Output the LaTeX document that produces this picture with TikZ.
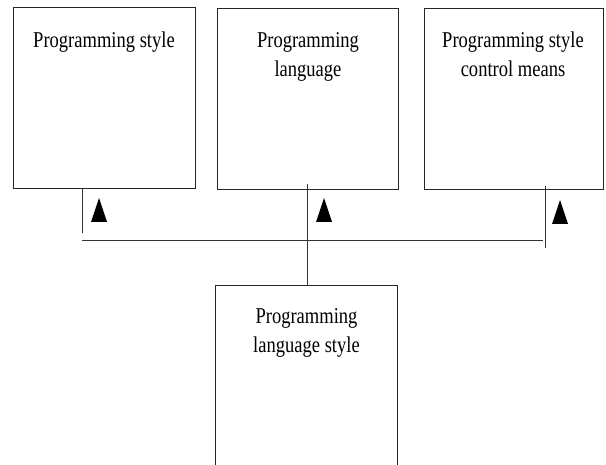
\documentclass[tikz,border=0pt]{standalone}
\usepackage{fontspec}
\setmainfont{Liberation Serif}[FakeStretch=0.82]
\tikzset{
  boxstyle/.style={draw=black!85, line width=1pt, inner sep=0pt},
  lbl/.style={anchor=base, inner sep=0pt, font=\fontsize{22.6}{29}\selectfont},
  conn/.style={draw=black!80, line width=1pt},
  tri/.style={fill=black}
}
\newcommand{\twol}[2]{\begin{tabular}[t]{@{}c@{}}#1\\#2\end{tabular}}
\begin{document}
\begin{tikzpicture}[x=1pt,y=-1pt]
\useasboundingbox (0,0) rectangle (606,465);
% boxes
\node[boxstyle, minimum width=182pt, minimum height=181pt] (b1) at (104,98) {};
\node[boxstyle, minimum width=181pt, minimum height=181pt] (b2) at (307.5,99.5) {};
\node[boxstyle, minimum width=179pt, minimum height=181pt] (b3) at (513.5,99.5) {};
\node[inner sep=0pt, minimum width=181pt, minimum height=181pt, anchor=north] (b4) at (306.5,286) {};
\draw[boxstyle] (b4.south west) -- (b4.north west) -- (b4.north east) -- (b4.south east);
% labels
\node[lbl] (t1) at (104,48) {Programming style};
\node[lbl] (t2) at (308,48) {\twol{Programming}{language}};
\node[lbl] (t3) at (513,48) {\twol{Programming style}{control means}};
\node[lbl] (t4) at (306.5,324) {\twol{Programming}{language style}};
% connectors
\coordinate (l1) at (82.5,233);
\coordinate (hL) at (82,241);
\coordinate (hR) at (543,241);
\coordinate (m0) at (307,184);
\coordinate (r0) at (545,186);
\coordinate (r1) at (545,248);
\draw[conn] (b1.south -| l1) -- (l1);
\draw[conn] (hL) -- (hR);
\draw[conn] (m0) -- (b4.north -| m0);
\draw[conn] (r0) -- (r1);
% arrowheads
\fill[tri] (91,222) -- (99,198) -- (107,222) -- cycle;
\fill[tri] (316,222) -- (324,198) -- (332,222) -- cycle;
\fill[tri] (552,224) -- (560,200) -- (568,224) -- cycle;
\end{tikzpicture}
\end{document}
